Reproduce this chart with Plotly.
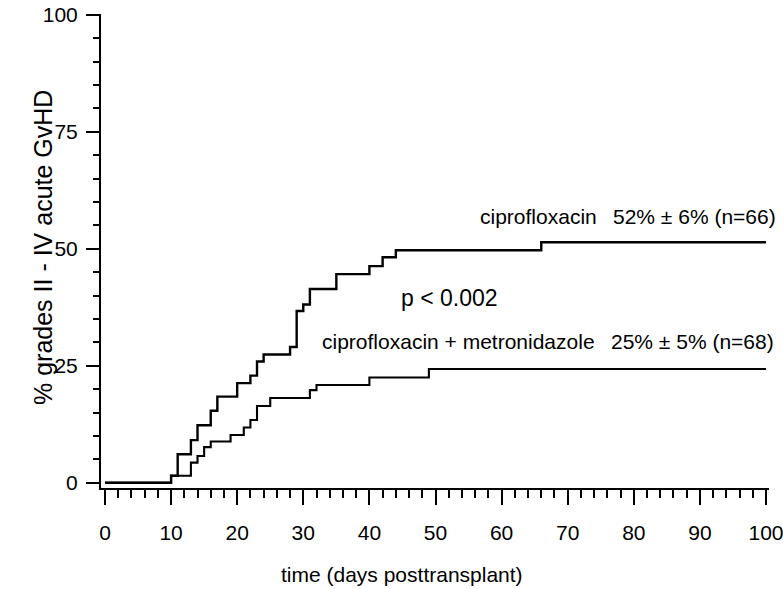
import plotly.graph_objects as go

# Data (cumulative incidence, step curves)
cipro_days = [0, 10, 11, 13, 14, 16, 17, 20, 22, 23, 24, 28, 29, 30, 31, 35, 40, 42, 44, 66, 100]
cipro_pct = [0, 1.5, 6.1, 9.1, 12.3, 15.4, 18.4, 21.3, 22.9, 25.9, 27.4, 29.0, 36.7, 38.1, 41.4, 44.6, 46.3, 48.2, 49.7, 51.4, 51.4]

metro_days = [0, 10, 13, 14, 15, 16, 19, 21, 22, 23, 25, 31, 32, 40, 49, 100]
metro_pct = [0, 1.5, 4.3, 5.7, 7.6, 8.8, 10.2, 11.8, 13.4, 16.4, 18.1, 19.8, 20.9, 22.5, 24.3, 24.3]

x_ticks = [0, 10, 20, 30, 40, 50, 60, 70, 80, 90, 100]
y_ticks = [0, 25, 50, 75, 100]

FONT = "Liberation Sans, Arial, Helvetica, sans-serif"

# plot area in pixels (for placing text annotations in paper coords)
L, R, T, B = 101, 769, 14, 488
W, H = 783, 589


def px(xp):
    return (xp - L) / (R - L)


def py(yp):
    return (B - yp) / (B - T)


fig = go.Figure()
fig.add_trace(go.Scatter(x=cipro_days, y=cipro_pct, mode="lines", line=dict(shape="hv", color="black", width=2.4),
                         showlegend=False, name="ciprofloxacin"))
fig.add_trace(go.Scatter(x=metro_days, y=metro_pct, mode="lines", line=dict(shape="hv", color="black", width=2.1),
                         showlegend=False, name="ciprofloxacin + metronidazole"))

fig.update_layout(
    width=W, height=H,
    margin=dict(l=L, r=W - R, t=T, b=H - B, autoexpand=False),
    paper_bgcolor="white", plot_bgcolor="white",
    font=dict(family=FONT, size=21, color="black"),
    xaxis=dict(range=[-0.6, 100.45], tickvals=x_ticks, ticks="outside", ticklen=15, tickwidth=1.6,
               tickcolor="black", showline=True, linecolor="black", linewidth=2, showgrid=False,
               zeroline=False, ticklabelstandoff=10, tickfont=dict(size=21), ticklabeloverflow="allow",
               automargin=False,
               minor=dict(dtick=2, ticks="outside", ticklen=8, tickwidth=1.6, tickcolor="black", showgrid=False)),
    yaxis=dict(range=[-1.13, 100.2], tickvals=y_ticks, ticks="outside", ticklen=13, tickwidth=1.6,
               tickcolor="black", showline=True, linecolor="black", linewidth=2, showgrid=False,
               zeroline=False, ticklabelstandoff=4, tickfont=dict(size=21), ticklabeloverflow="allow",
               automargin=False,
               minor=dict(dtick=5, ticks="outside", ticklen=6, tickwidth=1.6, tickcolor="black", showgrid=False)),
)

# axis titles
fig.add_annotation(text="% grades II - IV acute GvHD", textangle=-90, xref="paper", yref="paper",
                   x=px(43), y=py(248), xanchor="center", yanchor="middle",
                   showarrow=False, font=dict(size=25))
fig.add_annotation(text="time (days posttransplant)", xref="paper", yref="paper",
                   x=px(402), y=py(574), xanchor="center", yanchor="middle",
                   showarrow=False, font=dict(size=21))

# in-plot labels
fig.add_annotation(text="ciprofloxacin", xref="paper", yref="paper", x=px(478), y=py(216),
                   xanchor="left", yanchor="middle", showarrow=False)
fig.add_annotation(text="52% ± 6% (n=66)", xref="paper", yref="paper", x=px(778), y=py(216),
                   xanchor="right", yanchor="middle", showarrow=False)
fig.add_annotation(text="p < 0.002", xref="paper", yref="paper", x=px(449), y=py(298),
                   xanchor="center", yanchor="middle", showarrow=False, font=dict(size=23))
fig.add_annotation(text="ciprofloxacin + metronidazole", xref="paper", yref="paper", x=px(320), y=py(341),
                   xanchor="left", yanchor="middle", showarrow=False)
fig.add_annotation(text="25% ± 5% (n=68)", xref="paper", yref="paper", x=px(776), y=py(341),
                   xanchor="right", yanchor="middle", showarrow=False)

fig.write_html("out.html")
